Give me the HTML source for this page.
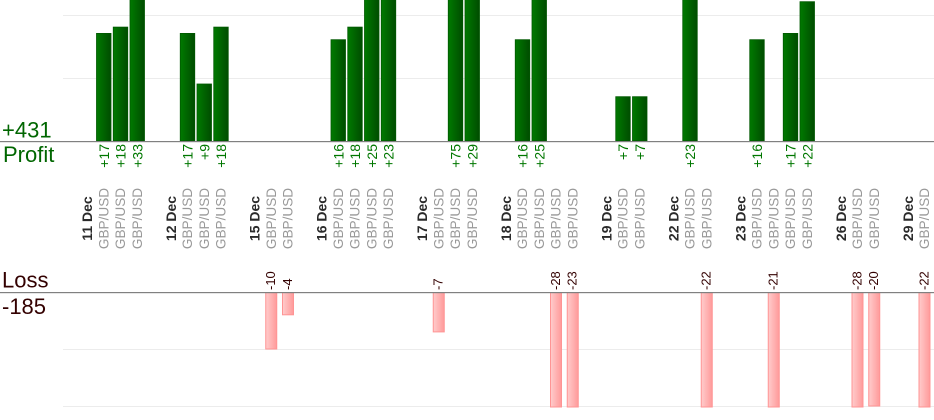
<!DOCTYPE html>
<html>
<head>
<meta charset="utf-8">
<style>
  html,body{margin:0;padding:0;background:#fff;}
  svg{display:block;}
  text{font-family:"Liberation Sans",Arial,sans-serif;}
</style>
</head>
<body>
<svg width="934" height="420" viewBox="0 0 934 420" xmlns="http://www.w3.org/2000/svg">
  <defs>
    <linearGradient id="g" x1="0" y1="0" x2="1" y2="0">
      <stop offset="0" stop-color="#007a00"/>
      <stop offset="1" stop-color="#004c00"/>
    </linearGradient>
    <linearGradient id="r" x1="0" y1="0" x2="1" y2="0">
      <stop offset="0" stop-color="#ffcccc"/>
      <stop offset="1" stop-color="#ff9a9a"/>
    </linearGradient>
  </defs>

  <!-- grid lines -->
  <g stroke="#ececec" stroke-width="1">
    <line x1="63" y1="15.5" x2="934" y2="15.5"/>
    <line x1="63" y1="78.5" x2="934" y2="78.5"/>
    <line x1="63" y1="349.5" x2="934" y2="349.5"/>
    <line x1="63" y1="406.5" x2="934" y2="406.5"/>
  </g>

  <!-- profit bars -->
  <g fill="url(#g)" stroke="#005800" stroke-width="0.8">
    <rect x="96.5" y="33.4" width="14.5" height="107.6"/>
    <rect x="113.25" y="27.1" width="14.5" height="113.9"/>
    <rect x="130" y="-2" width="14.5" height="143"/>
    <rect x="180.25" y="33.4" width="14.5" height="107.6"/>
    <rect x="197" y="84" width="14.5" height="57"/>
    <rect x="213.75" y="27.1" width="14.5" height="113.9"/>
    <rect x="331" y="39.7" width="14.5" height="101.3"/>
    <rect x="347.75" y="27.1" width="14.5" height="113.9"/>
    <rect x="364.5" y="-2" width="14.5" height="143"/>
    <rect x="381.25" y="-2" width="14.5" height="143"/>
    <rect x="448.25" y="-2" width="14.5" height="143"/>
    <rect x="465" y="-2" width="14.5" height="143"/>
    <rect x="515.25" y="39.7" width="14.5" height="101.3"/>
    <rect x="532" y="-2" width="14.5" height="143"/>
    <rect x="615.75" y="96.7" width="14.5" height="44.3"/>
    <rect x="632.5" y="96.7" width="14.5" height="44.3"/>
    <rect x="682.75" y="-2" width="14.5" height="143"/>
    <rect x="749.75" y="39.7" width="14.5" height="101.3"/>
    <rect x="783.25" y="33.4" width="14.5" height="107.6"/>
    <rect x="800" y="1.7" width="14.5" height="139.3"/>
  </g>

  <!-- loss bars -->
  <g fill="url(#r)" stroke="#ff9494" stroke-width="1">
    <rect x="265.75" y="292.5" width="11" height="56.5"/>
    <rect x="282.5" y="292.5" width="11" height="22.3"/>
    <rect x="433.25" y="292.5" width="11" height="39.4"/>
    <rect x="550.5" y="292.5" width="11" height="114.5"/>
    <rect x="567.25" y="292.5" width="11" height="114.5"/>
    <rect x="701.25" y="292.5" width="11" height="114.5"/>
    <rect x="768.25" y="292.5" width="11" height="114.5"/>
    <rect x="852" y="292.5" width="11" height="114.5"/>
    <rect x="868.75" y="292.5" width="11" height="113.5"/>
    <rect x="919" y="292.5" width="11" height="114.5"/>
  </g>

  <!-- axis lines -->
  <rect x="0" y="141" width="934" height="1.2" fill="#808080"/>
  <rect x="0" y="292" width="934" height="1.2" fill="#808080"/>

  <!-- left labels -->
  <text x="2" y="137.5" font-size="22" fill="#006600">+431</text>
  <text x="3" y="162" font-size="22" fill="#006600">Profit</text>
  <text x="2" y="287.5" font-size="22" fill="#330000">Loss</text>
  <text x="2" y="314" font-size="22" fill="#330000">-185</text>

  <!-- profit value labels -->
  <g font-size="14" fill="#007700" text-anchor="end" dominant-baseline="central">
    <text transform="translate(103.75,144) rotate(-90)">+17</text>
    <text transform="translate(120.5,144) rotate(-90)">+18</text>
    <text transform="translate(137.25,144) rotate(-90)">+33</text>
    <text transform="translate(187.5,144) rotate(-90)">+17</text>
    <text transform="translate(204.25,144) rotate(-90)">+9</text>
    <text transform="translate(221,144) rotate(-90)">+18</text>
    <text transform="translate(338.25,144) rotate(-90)">+16</text>
    <text transform="translate(355,144) rotate(-90)">+18</text>
    <text transform="translate(371.75,144) rotate(-90)">+25</text>
    <text transform="translate(388.5,144) rotate(-90)">+23</text>
    <text transform="translate(455.5,144) rotate(-90)">+75</text>
    <text transform="translate(472.25,144) rotate(-90)">+29</text>
    <text transform="translate(522.5,144) rotate(-90)">+16</text>
    <text transform="translate(539.25,144) rotate(-90)">+25</text>
    <text transform="translate(623,144) rotate(-90)">+7</text>
    <text transform="translate(639.75,144) rotate(-90)">+7</text>
    <text transform="translate(690,144) rotate(-90)">+23</text>
    <text transform="translate(757,144) rotate(-90)">+16</text>
    <text transform="translate(790.5,144) rotate(-90)">+17</text>
    <text transform="translate(807.25,144) rotate(-90)">+22</text>
  </g>

  <!-- loss value labels -->
  <g font-size="13" fill="#330000" text-anchor="start" dominant-baseline="central">
    <text transform="translate(270.5,290) rotate(-90)">-10</text>
    <text transform="translate(287.25,290) rotate(-90)">-4</text>
    <text transform="translate(438,290) rotate(-90)">-7</text>
    <text transform="translate(555.25,290) rotate(-90)">-28</text>
    <text transform="translate(572,290) rotate(-90)">-23</text>
    <text transform="translate(706,290) rotate(-90)">-22</text>
    <text transform="translate(773,290) rotate(-90)">-21</text>
    <text transform="translate(856.75,290) rotate(-90)">-28</text>
    <text transform="translate(873.5,290) rotate(-90)">-20</text>
    <text transform="translate(923.75,290) rotate(-90)">-22</text>
  </g>

  <!-- date labels -->
  <g font-size="14" font-weight="bold" fill="#2a2a2a" text-anchor="middle" dominant-baseline="central">
    <text transform="translate(87,218.5) rotate(-90)">11 Dec</text>
    <text transform="translate(170.75,218.5) rotate(-90)">12 Dec</text>
    <text transform="translate(254.5,218.5) rotate(-90)">15 Dec</text>
    <text transform="translate(321.5,218.5) rotate(-90)">16 Dec</text>
    <text transform="translate(422,218.5) rotate(-90)">17 Dec</text>
    <text transform="translate(505.75,218.5) rotate(-90)">18 Dec</text>
    <text transform="translate(606.25,218.5) rotate(-90)">19 Dec</text>
    <text transform="translate(673.25,218.5) rotate(-90)">22 Dec</text>
    <text transform="translate(740.25,218.5) rotate(-90)">23 Dec</text>
    <text transform="translate(840.75,218.5) rotate(-90)">26 Dec</text>
    <text transform="translate(907.75,218.5) rotate(-90)">29 Dec</text>
  </g>

  <!-- symbol labels -->
  <g font-size="13.6" fill="#999999" text-anchor="middle" dominant-baseline="central">
    <text transform="translate(103.75,218.5) rotate(-90)">GBP/USD</text>
    <text transform="translate(120.5,218.5) rotate(-90)">GBP/USD</text>
    <text transform="translate(137.25,218.5) rotate(-90)">GBP/USD</text>
    <text transform="translate(187.5,218.5) rotate(-90)">GBP/USD</text>
    <text transform="translate(204.25,218.5) rotate(-90)">GBP/USD</text>
    <text transform="translate(221,218.5) rotate(-90)">GBP/USD</text>
    <text transform="translate(271.25,218.5) rotate(-90)">GBP/USD</text>
    <text transform="translate(288,218.5) rotate(-90)">GBP/USD</text>
    <text transform="translate(338.25,218.5) rotate(-90)">GBP/USD</text>
    <text transform="translate(355,218.5) rotate(-90)">GBP/USD</text>
    <text transform="translate(371.75,218.5) rotate(-90)">GBP/USD</text>
    <text transform="translate(388.5,218.5) rotate(-90)">GBP/USD</text>
    <text transform="translate(438.75,218.5) rotate(-90)">GBP/USD</text>
    <text transform="translate(455.5,218.5) rotate(-90)">GBP/USD</text>
    <text transform="translate(472.25,218.5) rotate(-90)">GBP/USD</text>
    <text transform="translate(522.5,218.5) rotate(-90)">GBP/USD</text>
    <text transform="translate(539.25,218.5) rotate(-90)">GBP/USD</text>
    <text transform="translate(556,218.5) rotate(-90)">GBP/USD</text>
    <text transform="translate(572.75,218.5) rotate(-90)">GBP/USD</text>
    <text transform="translate(623,218.5) rotate(-90)">GBP/USD</text>
    <text transform="translate(639.75,218.5) rotate(-90)">GBP/USD</text>
    <text transform="translate(690,218.5) rotate(-90)">GBP/USD</text>
    <text transform="translate(706.75,218.5) rotate(-90)">GBP/USD</text>
    <text transform="translate(757,218.5) rotate(-90)">GBP/USD</text>
    <text transform="translate(773.75,218.5) rotate(-90)">GBP/USD</text>
    <text transform="translate(790.5,218.5) rotate(-90)">GBP/USD</text>
    <text transform="translate(807.25,218.5) rotate(-90)">GBP/USD</text>
    <text transform="translate(857.5,218.5) rotate(-90)">GBP/USD</text>
    <text transform="translate(874.25,218.5) rotate(-90)">GBP/USD</text>
    <text transform="translate(924.5,218.5) rotate(-90)">GBP/USD</text>
  </g>
</svg>
</body>
</html>
